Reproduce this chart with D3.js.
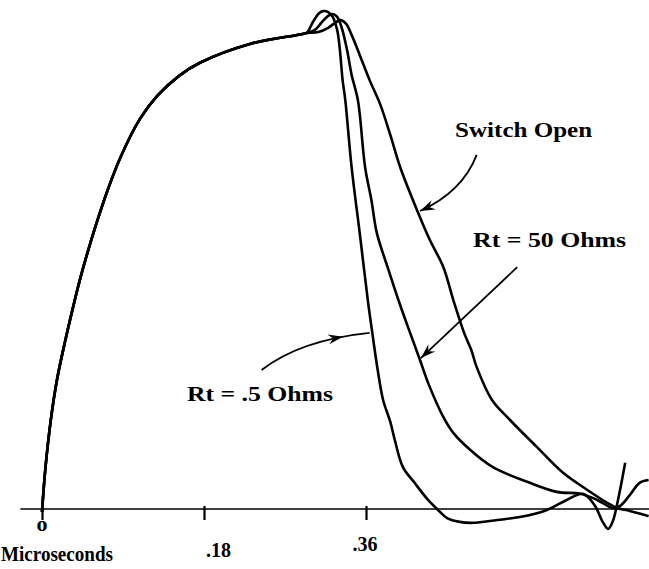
<!DOCTYPE html>
<html lang="en">
<head>
<meta charset="UTF-8"/>
<title>Termination resistance and pulse shape</title>
<style>
  *{margin:0;padding:0}
  body{background:#fff}
  svg{display:block}
  text{font-family:"Liberation Serif",serif;font-weight:bold;fill:#000}
</style>
</head>
<body>
<svg id="chart" width="649" height="569"></svg>
<script src="https://d3js.org/d3.v7.min.js"></script>
<script>
// [time in microseconds, amplitude relative to the flat top]
// rising edge is common to all three traces
const rise = [
  [0.000,-0.006],[0.004,0.090],[0.010,0.190],[0.017,0.275],[0.026,0.355],
  [0.034,0.420],[0.042,0.481],[0.050,0.535],[0.061,0.603],[0.072,0.665],
  [0.087,0.738],[0.109,0.820],[0.128,0.868],[0.153,0.911],[0.176,0.938],
  [0.231,0.977],[0.287,0.997],[0.294,1.000]
];
const tailHalfOhm = [
  [0.301,1.023],[0.307,1.040],[0.312,1.046],[0.318,1.044],[0.323,1.034],
  [0.328,1.006],[0.331,0.964],[0.334,0.901],[0.337,0.859],[0.344,0.718],
  [0.353,0.580],[0.362,0.439],[0.367,0.370],[0.373,0.292],[0.379,0.229],
  [0.387,0.183],[0.392,0.145],[0.401,0.088],[0.414,0.055],[0.429,0.019],
  [0.440,-0.002],[0.450,-0.019],[0.464,-0.027],[0.479,-0.029],[0.506,-0.023],
  [0.531,-0.017],[0.561,-0.002],[0.583,0.019],[0.601,0.032],[0.614,0.008],
  [0.623,-0.027],[0.629,-0.042],[0.634,-0.027],[0.640,0.019],[0.648,0.097]
];
const tail50Ohm = [
  [0.303,1.006],[0.311,1.023],[0.318,1.036],[0.323,1.040],[0.328,1.034],
  [0.333,1.011],[0.339,0.964],[0.344,0.912],[0.351,0.859],[0.359,0.718],
  [0.366,0.649],[0.372,0.580],[0.384,0.508],[0.396,0.439],[0.409,0.370],
  [0.420,0.313],[0.429,0.265],[0.446,0.193],[0.457,0.160],[0.476,0.124],
  [0.501,0.088],[0.542,0.055],[0.572,0.036],[0.598,0.032],[0.617,0.019],
  [0.634,0.002],[0.642,0.006],[0.653,0.029],[0.664,0.055],[0.674,0.061]
];
const tailOpen = [
  [0.307,1.002],[0.318,1.011],[0.327,1.023],[0.332,1.027],[0.338,1.019],
  [0.344,0.996],[0.353,0.954],[0.364,0.901],[0.376,0.849],[0.387,0.786],
  [0.398,0.718],[0.418,0.622],[0.431,0.565],[0.446,0.508],[0.457,0.439],
  [0.469,0.370],[0.477,0.334],[0.483,0.298],[0.500,0.229],[0.520,0.187],
  [0.550,0.130],[0.579,0.076],[0.606,0.040],[0.628,0.013],[0.639,0.002],
  [0.653,-0.004],[0.674,-0.015]
];

const tickValues = [0, 0.18, 0.36];
const tickLabels = ['o', '.18', '.36'];
const axisTitle = 'Microseconds';
const axisExtent = [-0.024, 0.675];

// callouts: text anchor and arrow (start, control, end) in data units
const notes = [
  {label:'Switch Open',  at:[0.459,0.782], arrow:[[0.483,0.744],[0.467,0.666],[0.420,0.626]], head:1},
  {label:'Rt = 50 Ohms', at:[0.479,0.550], arrow:[[0.528,0.508],[0.4745,0.4125],[0.421,0.317]], head:1},
  {label:'Rt = .5 Ohms', at:[0.161,0.227], arrow:[[0.244,0.292],[0.287,0.355],[0.364,0.370]], head:0.8}
];
const noteWidths = [137, 153, 146];

const svg = d3.select('#chart');
const x = d3.scaleLinear().domain([0, 0.674]).range([42, 648.6]);
const y = d3.scaleLinear().domain([0, 1]).range([509, 33]);

// time axis
svg.append('line')
  .attr('x1', x(axisExtent[0])).attr('x2', x(axisExtent[1]))
  .attr('y1', y(0)).attr('y2', y(0))
  .attr('stroke', '#000').attr('stroke-width', 1.6);

const ax = svg.append('g')
  .attr('transform', `translate(0,${y(0)})`)
  .call(d3.axisBottom(x).tickValues(tickValues).tickSize(11).tickFormat(''));
ax.select('.domain').remove();
ax.selectAll('.tick line')
  .attr('stroke-width', 2.2)
  .attr('y1', (d, i) => i ? -3 : 0);

const labelDx = [0, 2, -1], labelY = [531, 557, 551];
svg.selectAll('.tlab').data(tickValues).join('text')
  .attr('class', 'tlab')
  .attr('x', (d, i) => x(d) + labelDx[i])
  .attr('y', (d, i) => labelY[i])
  .attr('text-anchor', (d, i) => i === 1 ? 'start' : 'middle')
  .attr('font-size', (d, i) => i ? 20 : 22)
  .text((d, i) => tickLabels[i]);

svg.append('text')
  .attr('x', 1).attr('y', 561)
  .attr('font-size', 20)
  .attr('textLength', 112).attr('lengthAdjust', 'spacingAndGlyphs')
  .text(axisTitle);

// traces
const line = d3.line()
  .x(d => x(d[0])).y(d => y(d[1]))
  .curve(d3.curveCatmullRom.alpha(0.5));

[tailOpen, tail50Ohm, tailHalfOhm].forEach(tail => {
  svg.append('path')
    .attr('d', line(rise.concat(tail)))
    .attr('fill', 'none')
    .attr('stroke', '#000')
    .attr('stroke-width', 2.6)
    .attr('stroke-linejoin', 'round');
});

// callouts
notes.forEach((n, i) => {
  const [p0, p1, p2] = n.arrow.map(p => [x(p[0]), y(p[1])]);
  const p = d3.path();
  p.moveTo(p0[0], p0[1]);
  p.quadraticCurveTo(p1[0], p1[1], p2[0], p2[1]);
  svg.append('path').attr('d', p.toString())
    .attr('fill', 'none').attr('stroke', '#000').attr('stroke-width', 1.8);

  const s = n.head;
  const hx = (1-s)*(1-s)*p0[0] + 2*(1-s)*s*p1[0] + s*s*p2[0];
  const hy = (1-s)*(1-s)*p0[1] + 2*(1-s)*s*p1[1] + s*s*p2[1];
  const dx = 2*(1-s)*(p1[0]-p0[0]) + 2*s*(p2[0]-p1[0]);
  const dy = 2*(1-s)*(p1[1]-p0[1]) + 2*s*(p2[1]-p1[1]);
  const ang = Math.atan2(dy, dx) * 180 / Math.PI;
  svg.append('path')
    .attr('d', 'M0,0L-15,-5L-10,0L-15,5Z')
    .attr('transform', `translate(${hx},${hy}) rotate(${ang})`)
    .attr('fill', '#000');

  svg.append('text')
    .attr('x', x(n.at[0])).attr('y', y(n.at[1]))
    .attr('font-size', 21)
    .attr('textLength', noteWidths[i]).attr('lengthAdjust', 'spacingAndGlyphs')
    .text(n.label);
});
</script>
</body>
</html>
